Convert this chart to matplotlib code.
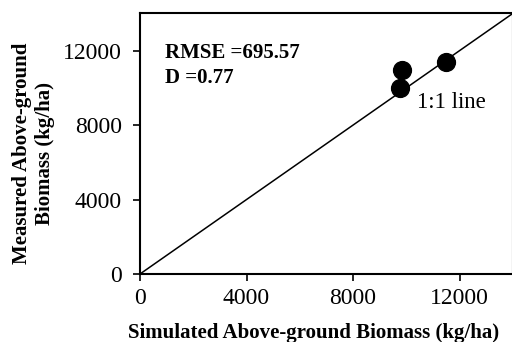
import numpy as np
import matplotlib.pyplot as plt

plt.rcParams['font.family'] = ['Liberation Serif', 'DejaVu Serif']

# data
simulated = [9840, 9750, 11500]
measured = [10960, 10000, 11370]
ticks = [0, 4000, 8000, 12000]
rmse_txt = 'RMSE =695.57'
d_txt = 'D =0.77'

fig = plt.figure(figsize=(5.12, 3.42), dpi=100)
ax = fig.add_axes([0.2734, 0.1988, 0.7285, 0.7623])

# 1:1 line
ax.plot([0, 14000], [0, 14000], color='black', lw=1.1)
ax.scatter(simulated, measured, s=165, color='black', zorder=3)

ax.set_xlim(0, 14000)
ax.set_ylim(0, 14000)
ax.set_xticks(ticks)
ax.set_yticks(ticks)
ax.tick_params(direction='out', length=5, width=1.2, labelsize=17, colors='black')
ax.tick_params(axis='y', pad=8)
ax.tick_params(axis='x', pad=5)
for s in ax.spines.values():
    s.set_linewidth(1.5)

ax.set_xlabel('Simulated Above-ground Biomass (kg/ha)', fontsize=15, fontweight='bold')
ax.set_ylabel('Measured Above-ground\nBiomass (kg/ha)', fontsize=15, fontweight='bold')
ax.xaxis.set_label_coords(0.466, -0.186)
ax.yaxis.set_label_coords(-0.228, 0.462)

ax.text(950, 11850, rmse_txt, fontsize=15, fontweight='bold', va='center')
ax.text(950, 10500, d_txt, fontsize=15, fontweight='bold', va='center')
ax.text(10400, 9190, '1:1 line', fontsize=16.5, va='center')

fig.savefig('out.png', dpi=100)
